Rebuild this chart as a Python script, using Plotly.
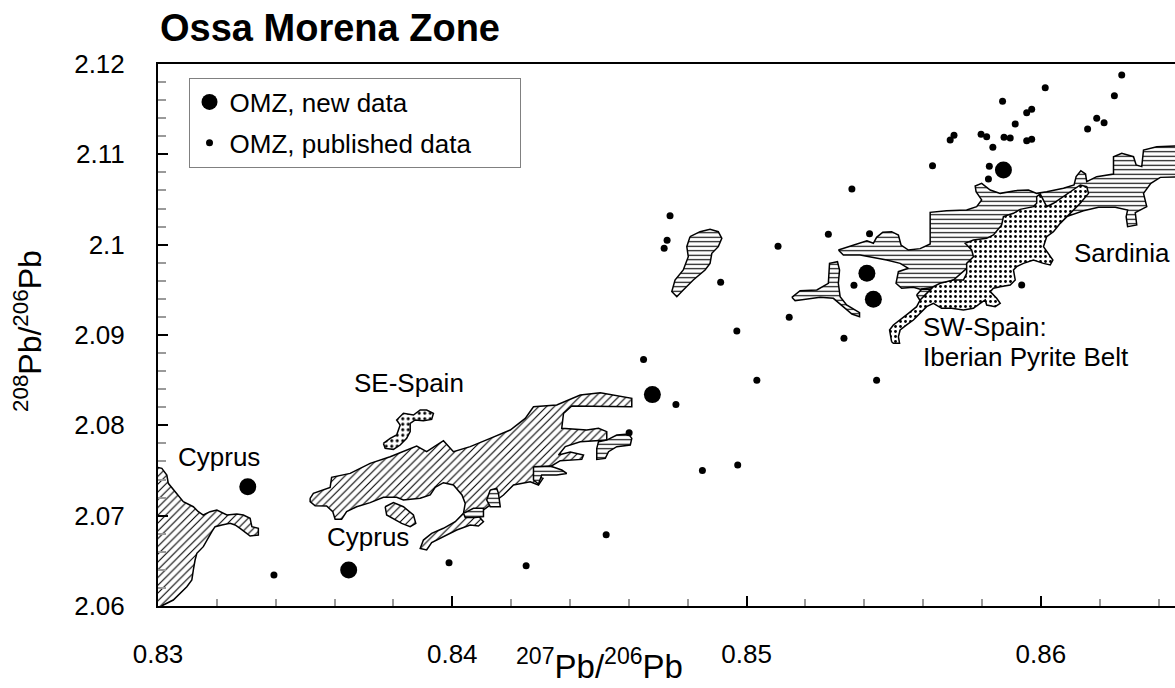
import plotly.graph_objects as go

FONT = "Liberation Sans, Arial, sans-serif"

# ---------------- point data ----------------
new_x = [0.83305, 0.83648, 0.8468, 0.85409, 0.85431, 0.85873]
new_y = [2.07321, 2.06398, 2.0834, 2.09683, 2.09395, 2.10827]

pub_x = [0.83394, 0.83989, 0.84251, 0.84523, 0.84601, 0.8465,
         0.8474, 0.8473, 0.8472, 0.8476, 0.8485, 0.8497,
         0.86275, 0.86015, 0.86250, 0.85870, 0.85952, 0.85969, 0.85913,
         0.86190, 0.86215, 0.86159, 0.85705, 0.85692, 0.85797, 0.85816,
         0.85875, 0.85896, 0.85952, 0.85969, 0.85837, 0.85632, 0.85825,
         0.85822, 0.85358, 0.85278, 0.85418, 0.85107, 0.84912, 0.85365,
         0.85935, 0.85145, 0.84967, 0.85331, 0.85035, 0.85442]
pub_y = [2.06343, 2.06479, 2.06446, 2.06789, 2.07919, 2.0873,
         2.1032, 2.1005, 2.0996, 2.0823, 2.0750, 2.0756,
         2.11878, 2.11738, 2.11649, 2.11587, 2.11461, 2.11498, 2.11336,
         2.11399, 2.11351, 2.11280, 2.11210, 2.11159, 2.11221, 2.11196,
         2.11188, 2.11181, 2.11151, 2.11166, 2.11078, 2.10875, 2.10867,
         2.10727, 2.10616, 2.10114, 2.10122, 2.09982, 2.09583, 2.09550,
         2.09554, 2.09196, 2.09044, 2.08963, 2.08500, 2.08500]

# ---------------- field outlines (data units) ----------------
cyp_left_x = [0.8295, 0.82996, 0.83013, 0.83030, 0.83035, 0.83058, 0.83086, 0.83120, 0.83137,
              0.83154, 0.83177, 0.83200, 0.83234, 0.83268, 0.83290, 0.83313, 0.83319, 0.83341,
              0.83341, 0.83313, 0.83296, 0.83279, 0.83262, 0.83245, 0.83217, 0.83194, 0.83183,
              0.83166, 0.83154, 0.83132, 0.83126, 0.83120, 0.83115, 0.83098, 0.83075, 0.83052,
              0.83018, 0.8300, 0.8295]
cyp_left_y = [2.07535, 2.07535, 2.07524, 2.07450, 2.07358, 2.07265, 2.07155, 2.07099, 2.07044,
              2.07007, 2.07044, 2.07063, 2.07007, 2.07018, 2.07007, 2.06970, 2.06878, 2.06860,
              2.06786, 2.06775, 2.06823, 2.06860, 2.06897, 2.06915, 2.06897, 2.06878, 2.06823,
              2.06730, 2.06657, 2.06583, 2.06509, 2.06398, 2.06288, 2.06214, 2.06140, 2.06066,
              2.06011, 2.0597, 2.0597]

diag_x = [0.83517, 0.83528, 0.83585, 0.83590, 0.83653, 0.83721, 0.83789, 0.83834, 0.83879,
          0.83913, 0.83970, 0.84004, 0.84061, 0.84129, 0.84197, 0.84248, 0.84276, 0.84355,
          0.84435, 0.84503, 0.84610, 0.84610, 0.84469, 0.84406, 0.84378, 0.84372, 0.84457,
          0.84497, 0.84525, 0.84525, 0.84435, 0.84384, 0.84361, 0.84401, 0.84446, 0.84440,
          0.84367, 0.84333, 0.84282, 0.84276, 0.84308, 0.84293, 0.84265, 0.84208, 0.84174,
          0.84134, 0.84106, 0.84089, 0.84106, 0.84089, 0.84061, 0.84015, 0.83970, 0.83930,
          0.83913, 0.83891, 0.83902, 0.83930, 0.83970, 0.84010, 0.84038, 0.84044, 0.84033,
          0.84004, 0.83970, 0.83942, 0.83925, 0.83891, 0.83834, 0.83811, 0.83766, 0.83721,
          0.83675, 0.83641, 0.83624, 0.83602, 0.83594, 0.83573, 0.83534, 0.83517]
diag_y = [2.07192, 2.07247, 2.07313, 2.07424, 2.07468, 2.07579, 2.07653, 2.07708, 2.07771,
          2.07708, 2.07830, 2.07708, 2.07764, 2.07856, 2.07948, 2.08077, 2.08206, 2.08225,
          2.08336, 2.08361, 2.08299, 2.08206, 2.08206, 2.08214, 2.08133, 2.07967, 2.07948,
          2.07967, 2.07930, 2.07837, 2.07819, 2.07764, 2.07671, 2.07705, 2.07671, 2.07623,
          2.07609, 2.07542, 2.07505, 2.07450, 2.07413, 2.07339, 2.07376, 2.07339, 2.07229,
          2.07136, 2.07063, 2.06996, 2.06933, 2.06885, 2.06896, 2.06841, 2.06767, 2.06701,
          2.06620, 2.06638, 2.06730, 2.06804, 2.06860, 2.06933, 2.07026, 2.07136, 2.07229,
          2.07339, 2.07365, 2.07313, 2.07229, 2.07192, 2.07173, 2.07203, 2.07203, 2.07144,
          2.07099, 2.07044, 2.06959, 2.06959, 2.07044, 2.07107, 2.07110, 2.07155]

lobe_x = [0.83772, 0.83800, 0.83834, 0.83868, 0.83876, 0.83857, 0.83828, 0.83800, 0.83777]
lobe_y = [2.07099, 2.07144, 2.07099, 2.07007, 2.06915, 2.06878, 2.06915, 2.06970, 2.07007]

se_spain_x = [0.83766, 0.83789, 0.83811, 0.83823, 0.83811, 0.83834, 0.83868, 0.83891, 0.83913,
              0.83936, 0.83930, 0.83902, 0.83874, 0.83857, 0.83857, 0.83845, 0.83823, 0.83800,
              0.83772]
se_spain_y = [2.07800, 2.07856, 2.07893, 2.08003, 2.08059, 2.08133, 2.08114, 2.08170, 2.08170,
              2.08133, 2.08066, 2.08051, 2.08059, 2.08022, 2.07930, 2.07856, 2.07782, 2.07734,
              2.07745]

sard_x = [0.85312, 0.85346, 0.85386, 0.85409, 0.85431, 0.85442, 0.85463, 0.85493, 0.85516,
          0.85525, 0.85550, 0.85590, 0.85624, 0.85624, 0.85680, 0.85748, 0.85782, 0.85799,
          0.85780, 0.85777, 0.85799, 0.85828, 0.85862, 0.85913, 0.85958, 0.85986, 0.86020,
          0.86077, 0.86113, 0.86120, 0.86136, 0.86152, 0.86156, 0.86190, 0.86247, 0.86247,
          0.86275, 0.86315, 0.86324, 0.86343, 0.86349, 0.86394, 0.86474, 0.8660, 0.8660,
          0.86406, 0.86374, 0.86349, 0.86360, 0.86321, 0.86326, 0.86295, 0.86290, 0.86295,
          0.86253, 0.86196, 0.86145, 0.86088, 0.86054, 0.86020, 0.85975, 0.85918, 0.85862,
          0.85816, 0.85794, 0.85748, 0.85703, 0.85635, 0.85590, 0.85567, 0.85527, 0.85508,
          0.85516, 0.85550, 0.85522, 0.85476, 0.85442, 0.85386, 0.85329, 0.85312]
sard_y = [2.09941, 2.09978, 2.10022, 2.10044, 2.10015, 2.10081, 2.10137, 2.10144, 2.10107,
          2.09996, 2.09941, 2.09956, 2.10007, 2.10358, 2.10376, 2.10384, 2.10421, 2.10495,
          2.10587, 2.10649, 2.10679, 2.10605, 2.10568, 2.10598, 2.10605, 2.10568, 2.10587,
          2.10624, 2.10661, 2.10753, 2.10819, 2.10782, 2.10697, 2.10753, 2.10782, 2.10974,
          2.11011, 2.10974, 2.10882, 2.10864, 2.11048, 2.11085, 2.11096, 2.1110, 2.1076,
          2.10745, 2.10679, 2.10568, 2.10421, 2.10354, 2.10218, 2.10199, 2.10310, 2.10384,
          2.10413, 2.10413, 2.10376, 2.10310, 2.10218, 2.10144, 2.10089, 2.10033, 2.09978,
          2.09904, 2.09793, 2.09738, 2.09609, 2.09528, 2.09506, 2.09528, 2.09517, 2.09572,
          2.09701, 2.09738, 2.09793, 2.09830, 2.09849, 2.09886, 2.09886, 2.09941]

sard_strip_x = [0.85154, 0.85182, 0.85239, 0.85278, 0.85282, 0.85309, 0.85316, 0.85312, 0.85318,
                0.85340, 0.85384, 0.85384, 0.85358, 0.85324, 0.85295, 0.85250, 0.85205, 0.85165]
sard_strip_y = [2.09417, 2.09491, 2.09498, 2.09572, 2.09793, 2.09812, 2.09720, 2.09572, 2.09424,
                2.09332, 2.09247, 2.09203, 2.09232, 2.09321, 2.09406, 2.09417, 2.09395, 2.09380]

sard_blob_x = [0.84808, 0.84842, 0.84876, 0.84904, 0.84916, 0.84904, 0.84882, 0.84876, 0.84859,
               0.84819, 0.84785, 0.84763, 0.84746, 0.84757, 0.84785, 0.84802, 0.84797]
sard_blob_y = [2.10089, 2.10144, 2.10170, 2.10144, 2.10070, 2.09978, 2.09904, 2.09793, 2.09720,
               2.09609, 2.09498, 2.09424, 2.09480, 2.09609, 2.09720, 2.09867, 2.09978]

sard_bits = [
    ([0.84129, 0.84151, 0.84157, 0.84163, 0.84129, 0.84117],
     [2.07284, 2.07302, 2.07247, 2.07099, 2.07099, 2.07173]),
    ([0.84038, 0.84072, 0.84106, 0.84106, 0.84078, 0.84044],
     [2.07026, 2.07081, 2.07081, 2.06989, 2.06981, 2.06981]),
    ([0.84276, 0.84333, 0.84372, 0.84389, 0.84355, 0.84304, 0.84293, 0.84276],
     [2.07542, 2.07550, 2.07505, 2.07468, 2.07450, 2.07450, 2.07350, 2.07395]),
    ([0.84491, 0.84497, 0.84525, 0.84559, 0.84599, 0.84610, 0.84605, 0.84559, 0.84531, 0.84520, 0.84491],
     [2.07745, 2.07819, 2.07837, 2.07893, 2.07904, 2.07856, 2.07782, 2.07764, 2.07708, 2.07634, 2.07623]),
    ([0.85578, 0.85595, 0.85635, 0.85641, 0.85618, 0.85590],
     [2.09443, 2.09506, 2.09506, 2.09443, 2.09380, 2.09380]),
]

ipb_x = [0.85493, 0.85486, 0.85499, 0.85522, 0.85550, 0.85578, 0.85590, 0.85612, 0.85635, 0.85658,
         0.85703, 0.85737, 0.85748, 0.85748, 0.85771, 0.85765, 0.85743, 0.85771, 0.85816, 0.85839,
         0.85867, 0.85873, 0.85907, 0.85930, 0.85975, 0.85986, 0.85986, 0.85998, 0.86009, 0.86020,
         0.86043, 0.86077, 0.86111, 0.86134, 0.86156, 0.86162, 0.86134, 0.86111, 0.86088, 0.86066,
         0.86043, 0.86020, 0.86009, 0.86026, 0.86041, 0.86032, 0.86009, 0.85975, 0.85941, 0.85918,
         0.85907, 0.85913, 0.85896, 0.85862, 0.85839, 0.85828, 0.85850, 0.85862, 0.85845, 0.85816,
         0.85811, 0.85794, 0.85771, 0.85737, 0.85697, 0.85663, 0.85635, 0.85612, 0.85590, 0.85567,
         0.85544, 0.85522, 0.85516, 0.85520, 0.85499]
ipb_y = [2.08926, 2.09055, 2.09111, 2.09166, 2.09240, 2.09314, 2.09388, 2.09461, 2.09535, 2.09572,
         2.09609, 2.09609, 2.09683, 2.09793, 2.09867, 2.09941, 2.10015, 2.10052, 2.10070, 2.10107,
         2.10218, 2.10310, 2.10347, 2.10391, 2.10421, 2.10458, 2.10531, 2.10561, 2.10495, 2.10421,
         2.10458, 2.10531, 2.10605, 2.10661, 2.10642, 2.10568, 2.10458, 2.10384, 2.10310, 2.10236,
         2.10144, 2.10089, 2.09978, 2.09904, 2.09830, 2.09775, 2.09793, 2.09830, 2.09793, 2.09757,
         2.09720, 2.09609, 2.09554, 2.09535, 2.09517, 2.09480, 2.09406, 2.09351, 2.09314, 2.09332,
         2.09388, 2.09351, 2.09295, 2.09277, 2.09295, 2.09295, 2.09351, 2.09314, 2.09240, 2.09166,
         2.09111, 2.09055, 2.08981, 2.08908, 2.08908]

x_ticks = [0.83, 0.84, 0.85, 0.86]
x_tick_text = ["0.83", "0.84", "0.85", "0.86"]
y_ticks = [2.06, 2.07, 2.08, 2.09, 2.10, 2.11, 2.12]
y_tick_text = ["2.06", "2.07", "2.08", "2.09", "2.1", "2.11", "2.12"]

labels = [  # text, x, y, anchor
    ("Cyprus", 0.83207, 2.0765, "center"),
    ("Cyprus", 0.83712, 2.0676, "center"),
    ("SE-Spain", 0.83853, 2.0847, "center"),
    ("SW-Spain:", 0.85594, 2.0909, "left"),
    ("Iberian Pyrite Belt", 0.85594, 2.0876, "left"),
    ("Sardinia", 0.86105, 2.0991, "left"),
]

# ---------------- figure ----------------
fig = go.Figure()

def field(xs, ys, shape, size, sol=0.25):
    fig.add_trace(go.Scatter(
        x=xs + xs[:1], y=ys + ys[:1], mode="lines", fill="toself",
        line=dict(color="black", width=1.5),
        fillcolor="white",
        fillpattern=dict(shape=shape, size=size, solidity=sol,
                         fgcolor="black", bgcolor="white", fillmode="replace"),
        showlegend=False, hoverinfo="skip"))

field(cyp_left_x, cyp_left_y, "/", 5.5, 0.2)
field(diag_x, diag_y, "/", 5.5, 0.2)
field(lobe_x, lobe_y, "/", 5.5, 0.2)
field(sard_x, sard_y, "-", 4.5, 0.25)
field(sard_strip_x, sard_strip_y, "-", 4.5, 0.25)
field(sard_blob_x, sard_blob_y, "-", 4.5, 0.25)
for bx, by in sard_bits:
    field(bx, by, "-", 4.5, 0.25)
field(ipb_x, ipb_y, ".", 5, 0.25)
field(se_spain_x, se_spain_y, ".", 5.5, 0.25)

fig.add_trace(go.Scatter(
    x=new_x, y=new_y, mode="markers", name="OMZ, new data",
    marker=dict(color="black", size=17), legendgroup="a"))
fig.add_trace(go.Scatter(
    x=pub_x, y=pub_y, mode="markers",
    name="OMZ, published data\u00a0\u00a0\u00a0\u00a0\u00a0\u00a0",
    marker=dict(color="black", size=7), legendgroup="b"))

for txt, lx, ly, anc in labels:
    fig.add_annotation(x=lx, y=ly, xref="x", yref="y", text=txt, showarrow=False,
                       xanchor=anc, yanchor="middle",
                       font=dict(family=FONT, size=26, color="black"))

# title and axis titles
fig.add_annotation(x=0, y=1.066, xref="paper", yref="paper", text="<b>Ossa Morena Zone</b>",
                   showarrow=False, xanchor="left", yanchor="middle",
                   font=dict(family=FONT, size=38, color="black"))
fig.add_annotation(x=0.8450, y=-0.107, xref="x", yref="paper",
                   text="<sup>207</sup>Pb/<sup>206</sup>Pb", showarrow=False,
                   xanchor="center", yanchor="middle",
                   font=dict(family=FONT, size=33, color="black"))
fig.add_annotation(x=-0.128, y=0.507, xref="paper", yref="paper", textangle=-90,
                   text="<sup>208</sup>Pb/<sup>206</sup>Pb", showarrow=False,
                   xanchor="center", yanchor="middle",
                   font=dict(family=FONT, size=32, color="black"))

fig.update_layout(
    width=1175, height=688,
    margin=dict(l=158, r=0, t=64, b=82),
    paper_bgcolor="white", plot_bgcolor="white",
    font=dict(family=FONT, size=26, color="black"),
    showlegend=True,
    legend=dict(x=0.03, y=0.975, xanchor="left", yanchor="top",
                bgcolor="white", bordercolor="#808080", borderwidth=1,
                font=dict(family=FONT, size=26, color="black"),
                tracegroupgap=4, itemsizing="trace"),
    xaxis=dict(range=[0.83, 0.86456], tickvals=x_ticks, ticktext=x_tick_text,
               ticks="inside", ticklen=10, tickwidth=1.5, tickcolor="black",
               minor=dict(dtick=0.002, ticks="inside", ticklen=7, tickwidth=1.5, tickcolor="#9a9a9a"),
               showline=True, linewidth=2, linecolor="black", mirror=True,
               showgrid=False, zeroline=False, ticklabelstandoff=24,
               tickfont=dict(family=FONT, size=26, color="black")),
    yaxis=dict(range=[2.06, 2.12], tickvals=y_ticks, ticktext=y_tick_text,
               ticks="inside", ticklen=10, tickwidth=1.5, tickcolor="black",
               minor=dict(dtick=0.002, ticks="inside", ticklen=8, tickwidth=1.5, tickcolor="#9a9a9a"),
               showline=True, linewidth=2, linecolor="black", mirror=False,
               showgrid=False, zeroline=False, ticklabelstandoff=26,
               tickfont=dict(family=FONT, size=26, color="black")),
)

fig.write_html("out.html", config={"displayModeBar": False},
               post_script="document.body.style.margin='0px';")
